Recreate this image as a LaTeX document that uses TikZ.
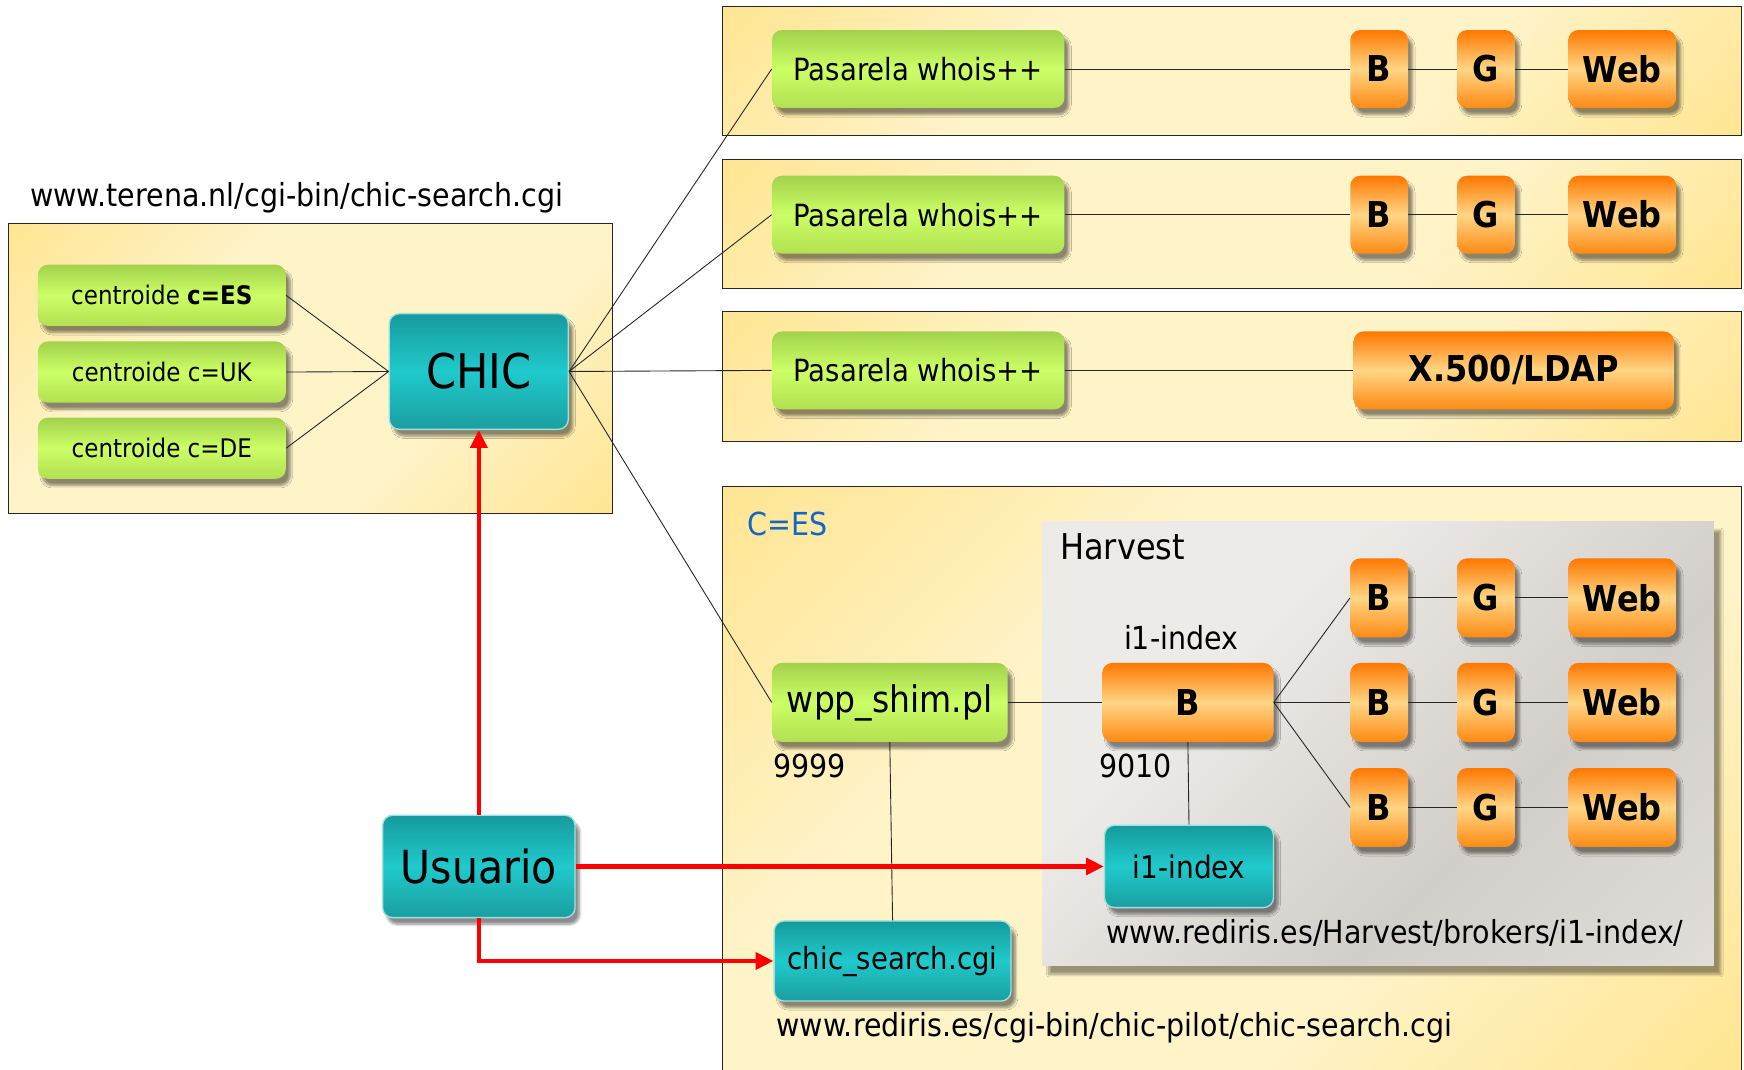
\documentclass[tikz,border=0pt]{standalone}
\usepackage{fontspec}
\setmainfont{DejaVu Sans}[FakeStretch=0.9]
\usetikzlibrary{shadows.blur,arrows.meta}
\definecolor{yA}{HTML}{FFDD6E}
\definecolor{yB}{HTML}{FFF3C8}
\definecolor{gA}{HTML}{A2D24C}
\definecolor{gB}{HTML}{CCFF66}
\definecolor{gC}{HTML}{B2E052}
\definecolor{oA}{HTML}{FF7800}
\definecolor{oB}{HTML}{FFD684}
\definecolor{oC}{HTML}{FF8A14}
\definecolor{tA}{HTML}{169A9C}
\definecolor{tB}{HTML}{20CACC}
\definecolor{tC}{HTML}{1A9EA0}
\definecolor{tL}{HTML}{9FE0E0}
\definecolor{hA}{HTML}{EDEBE8}
\definecolor{hB}{HTML}{D2CEC9}
\definecolor{hC}{HTML}{E9E7E3}
\definecolor{blueT}{HTML}{1565C8}
\pgfdeclarehorizontalshading{ybg}{100bp}{color(0bp)=(yA); color(36bp)=(yB); color(64bp)=(yB); color(100bp)=(yA)}
\pgfdeclarehorizontalshading{hbg}{100bp}{color(0bp)=(hA); color(35bp)=(hA); color(62bp)=(hB); color(100bp)=(hC)}
\tikzset{
  panel/.style={shading=ybg, shading angle=-45},
  panelline/.style={draw=black!85, line width=0.9pt},
  box/.style={rounded corners=9pt, minimum height=70pt, inner sep=0pt,
    blur shadow={shadow xshift=4pt, shadow yshift=-6pt, shadow blur steps=8, shadow opacity=45}},
  gbox/.style={box, top color=gA, bottom color=gC, middle color=gB, font=\fontsize{27.5}{31}\selectfont},
  obox/.style={box, top color=oA, bottom color=oC, middle color=oB, font=\fontsize{32}{36}\selectfont\bfseries},
  tbox/.style={box, top color=tA, bottom color=tC, middle color=tB, draw=tL, line width=1.2pt},
  lbl/.style={font=\fontsize{28.5}{32}\selectfont, inner sep=0pt},
  link/.style={draw=black!85, line width=0.8pt},
  redarrow/.style={draw=red, line width=3.8pt, -{Triangle[length=16pt,width=15pt]}}
}
\begin{document}
\begin{tikzpicture}[x=1pt,y=-1pt]
\useasboundingbox (0,0) rectangle (1568,962);
% panels
\shade[panel] (8,201) rectangle (551,462);
\draw[panelline] (8,201) rectangle (551,462);
\shade[panel] (650,6) rectangle (1566,122);
\draw[panelline] (650,6) rectangle (1566,122);
\shade[panel] (650,143) rectangle (1566,259);
\draw[panelline] (650,143) rectangle (1566,259);
\shade[panel] (650,280) rectangle (1566,397);
\draw[panelline] (650,280) rectangle (1566,397);
\shade[panel] (650,437) rectangle (1566,962);
\draw[panelline] (650,962) -- (650,437) -- (1566,437) -- (1566,962);
% harvest
\path[shading=hbg, shading angle=-45, blur shadow={shadow xshift=6pt, shadow yshift=-8pt, shadow blur steps=10, shadow opacity=40}] (937,469) rectangle (1541,868);
% labels
\node[lbl, anchor=west] (t1) at (27,178) {www.terena.nl/cgi-bin/chic-search.cgi};
\node[lbl, anchor=west, text=blueT] (ces) at (672,471) {C=ES};
\node[lbl, anchor=west, font=\fontsize{32}{36}\selectfont] (harv) at (953,492) {Harvest};
\node[lbl] (i1lbl) at (1062,573) {i1-index};
\node[lbl] (p9010) at (1021,689) {9010};
\node[lbl] (p9999) at (728,689) {9999};
\node[lbl] (url1) at (1254,839) {www.rediris.es/Harvest/brokers/i1-index/};
\node[lbl, anchor=west] (url2) at (698,924) {www.rediris.es/cgi-bin/chic-pilot/chic-search.cgi};
% centroides
\node[gbox, minimum width=223pt, minimum height=55pt, font=\fontsize{23}{26}\selectfont] (c1) at (145.5,265.5) {centroide \textbf{c=ES}};
\node[gbox, minimum width=223pt, minimum height=55pt, font=\fontsize{23}{26}\selectfont] (c2) at (145.5,334.5) {centroide c=UK};
\node[gbox, minimum width=223pt, minimum height=55pt, font=\fontsize{23}{26}\selectfont] (c3) at (145.5,403) {centroide c=DE};
\node[tbox, minimum width=161pt, minimum height=104pt, font=\fontsize{43}{48}\selectfont] (chic) at (430.5,334) {CHIC};
% pasarelas
\node[gbox, minimum width=263pt] (p1) at (825.5,62) {Pasarela whois++};
\node[gbox, minimum width=263pt] (p2) at (825.5,193) {Pasarela whois++};
\node[gbox, minimum width=263pt] (p3) at (825.5,333) {Pasarela whois++};
\node[obox, minimum width=52pt] (b1) at (1240,62) {B};
\node[obox, minimum width=52pt] (g1) at (1336,62) {G};
\node[obox, minimum width=97pt] (w1) at (1458.5,62) {Web};
\node[obox, minimum width=52pt] (b2) at (1240,193) {B};
\node[obox, minimum width=52pt] (g2) at (1336,193) {G};
\node[obox, minimum width=97pt] (w2) at (1458.5,193) {Web};
\node[obox, minimum width=288pt] (x500) at (1361,333) {X.500/LDAP};
% harvest rows
\node[obox, minimum width=52pt, minimum height=71pt] (hb1) at (1240,537.5) {B};
\node[obox, minimum width=52pt, minimum height=71pt] (hg1) at (1336,537.5) {G};
\node[obox, minimum width=97pt, minimum height=71pt] (hw1) at (1458.5,537.5) {Web};
\node[obox, minimum width=52pt, minimum height=71pt] (hb2) at (1240,631.5) {B};
\node[obox, minimum width=52pt, minimum height=71pt] (hg2) at (1336,631.5) {G};
\node[obox, minimum width=97pt, minimum height=71pt] (hw2) at (1458.5,631.5) {Web};
\node[obox, minimum width=52pt, minimum height=71pt] (hb3) at (1240,726) {B};
\node[obox, minimum width=52pt, minimum height=71pt] (hg3) at (1336,726) {G};
\node[obox, minimum width=97pt, minimum height=71pt] (hw3) at (1458.5,726) {Web};
\node[obox, minimum width=154pt, minimum height=71pt] (ib) at (1068,631.5) {B};
\node[gbox, minimum width=212pt, minimum height=71pt, font=\fontsize{33}{37}\selectfont] (wpp) at (800,631.5) {wpp\_shim.pl};
\node[tbox, minimum width=152pt, minimum height=74pt, font=\fontsize{28}{32}\selectfont] (i1x) at (1069,779) {i1-index};
\node[tbox, minimum width=213pt, minimum height=72pt, font=\fontsize{27.5}{31}\selectfont] (cs) at (802.5,864) {chic\_search.cgi};
\node[tbox, minimum width=173pt, minimum height=92pt, font=\fontsize{41}{46}\selectfont] (usr) at (430.5,779) {Usuario};
% links
\draw[link] (c1.east) -- (chic.west);
\draw[link] (c2.east) -- (chic.west);
\draw[link] (c3.east) -- (chic.west);
\draw[link] (chic.east) -- (p1.west);
\draw[link] (chic.east) -- (p2.west);
\draw[link] (chic.east) -- (p3.west);
\draw[link] (chic.east) -- (wpp.west);
\draw[link] (p1) -- (b1) -- (g1) -- (w1);
\draw[link] (p2) -- (b2) -- (g2) -- (w2);
\draw[link] (p3) -- (x500);
\draw[link] (wpp) -- (ib);
\draw[link] (ib.east) -- (hb1.west);
\draw[link] (ib.east) -- (hb2.west);
\draw[link] (ib.east) -- (hb3.west);
\draw[link] (hb1) -- (hg1) -- (hw1);
\draw[link] (hb2) -- (hg2) -- (hw2);
\draw[link] (hb3) -- (hg3) -- (hw3);
\draw[link] (ib.south) -- (i1x.north);
\draw[link] (wpp.south) -- (cs.north);
% red arrows
\draw[redarrow] (usr.north) -- (chic.south);
\draw[redarrow] (usr.east) -- (i1x.west);
\draw[redarrow] (usr.south) |- (cs.west);
\end{tikzpicture}
\end{document}
